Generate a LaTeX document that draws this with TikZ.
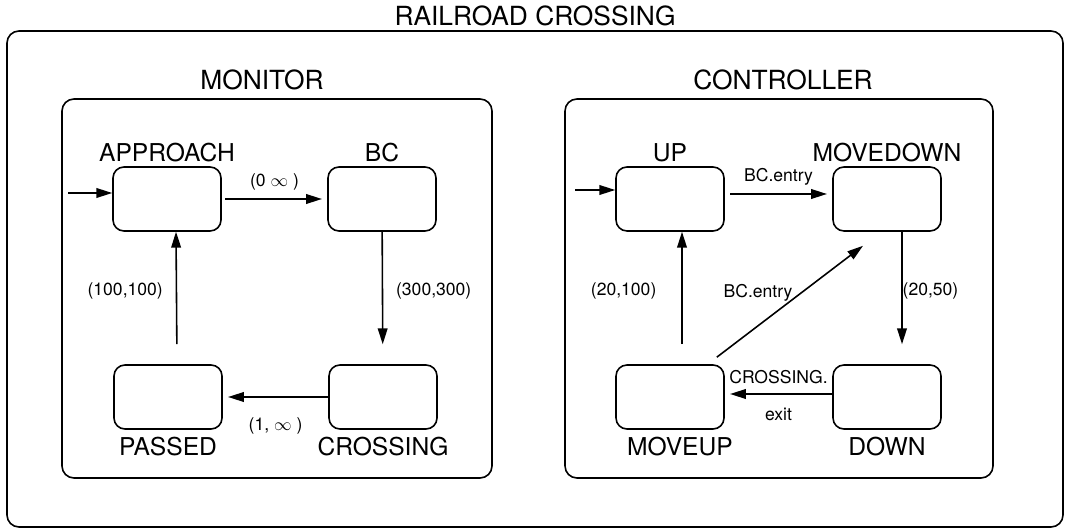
\documentclass[tikz,border=0pt]{standalone}
\usepackage{fontspec}
\setmainfont{TeX Gyre Heros}
\usepackage{tikz}
\usetikzlibrary{arrows.meta,positioning,calc}

\begin{document}
\begin{tikzpicture}[
  every node/.style={font=\fontsize{10}{12}\selectfont},
  frame/.style={draw, line width=0.9pt, rounded corners=0.24cm},
  state/.style={draw, line width=0.9pt, rounded corners=0.22cm, minimum width=2.16cm, minimum height=1.28cm},
  stname/.style={font=\fontsize{14}{16}\selectfont, inner sep=2pt},
  title/.style={font=\fontsize{15}{18}\selectfont},
  trans/.style={-{Triangle[length=9pt, width=5.5pt]}, line width=0.9pt}
]
  \useasboundingbox (0,0) rectangle (21.42,10.62);

  % Outer chart and its two parallel components
  \node[frame, minimum width=21.12cm, minimum height=9.92cm] (railroad) at (10.70,5.04) {};
  \node[title] (railroadname) at (10.70,10.30) {RAILROAD CROSSING};
  \node[frame, minimum width=8.60cm, minimum height=7.58cm] (monitor) at (5.54,4.85) {};
  \node[title] (monitorname) at (5.24,9.02) {MONITOR};
  \node[frame, minimum width=8.56cm, minimum height=7.58cm] (controller) at (15.58,4.85) {};
  \node[title] (controllername) at (15.66,9.02) {CONTROLLER};

  % MONITOR states
  \node[state, label={[stname]above:APPROACH}] (approach) at (3.34,6.64) {};
  \node[state, label={[stname]above:BC}] (bc) at (7.64,6.64) {};
  \node[state, label={[stname, label distance=2pt]below:PASSED}] (passed) at (3.36,2.68) {};
  \node[state, label={[stname, label distance=2pt]below:CROSSING}] (crossing) at (7.66,2.68) {};

  % CONTROLLER states
  \node[state, label={[stname]above:UP}] (up) at (13.40,6.64) {};
  \node[state, label={[stname]above:MOVEDOWN}] (movedown) at (17.74,6.64) {};
  \node[state, label={[stname, label distance=2pt, xshift=0.2cm]below:MOVEUP}] (moveup) at (13.40,2.68) {};
  \node[state, label={[stname, label distance=2pt]below:DOWN}] (down) at (17.74,2.68) {};

  % Default entries
  \coordinate (minit) at (1.36,6.76);
  \coordinate (cinit) at (11.50,6.82);
  \draw[trans] (minit) -- (minit -| approach.west);
  \draw[trans] (cinit) -- (cinit -| up.west);

  % MONITOR transitions
  \draw[trans, shorten <=2pt, shorten >=3pt] (approach) -- node[above=1pt] {(0 $\infty$ )} (bc);
  \draw[trans, shorten >=0.4cm] (bc) -- node[right=0.14cm, pos=0.45] {(300,300)} (crossing);
  \draw[trans, shorten >=3pt] (crossing) -- node[below=8pt] {(1, $\infty$ )} (passed);
  \draw[trans, shorten <=0.4cm] ([xshift=0.18cm]passed.north) -- node[left=0.14cm, pos=0.55] {(100,100)} ([xshift=0.18cm]approach.south);

  % CONTROLLER transitions
  \draw[trans, shorten <=3pt, shorten >=3pt] ([yshift=0.1cm]up.east) -- node[above=1pt] {BC.entry} ([yshift=0.1cm]movedown.west);
  \draw[trans, shorten >=0.4cm] ([xshift=0.3cm]movedown.south) -- node[right=-0.12cm, pos=0.45] {(20,50)} ([xshift=0.3cm]down.north);
  \draw[trans, shorten >=3pt] ([yshift=0.06cm]down.west) -- node[above=2pt] {CROSSING.} node[below=4pt] {exit} ([yshift=0.06cm]moveup.east);
  \draw[trans, shorten <=0.4cm] ([xshift=0.24cm]moveup.north) -- node[left=0.38cm, pos=0.55] {(20,100)} ([xshift=0.24cm]up.south);
  \draw[trans] ([shift={(-0.16,0.14)}]moveup.north east) -- node[left=0.05cm, pos=0.58] {BC.entry} ([shift={(-0.48,-0.28)}]movedown.south);

\end{tikzpicture}
\end{document}
